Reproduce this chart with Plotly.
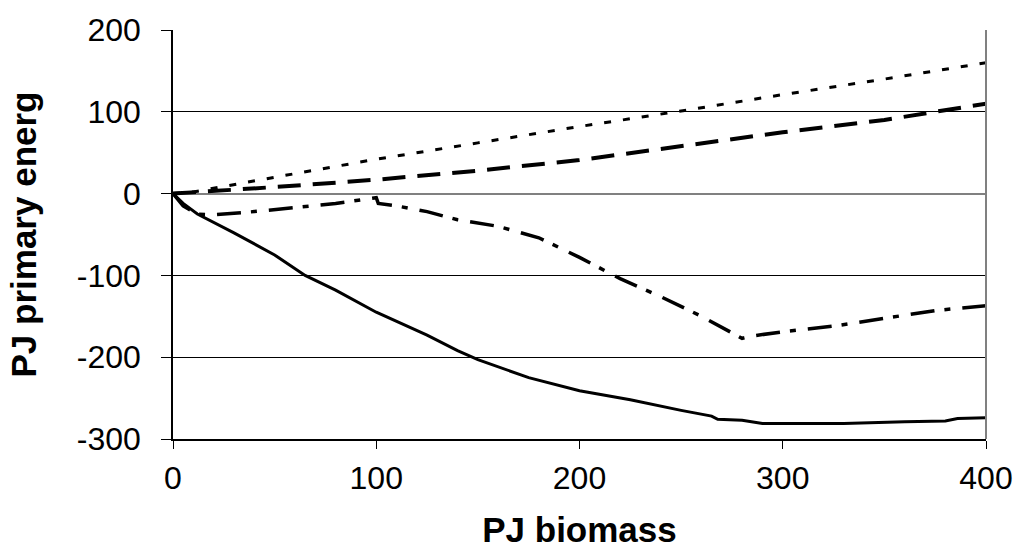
import plotly.graph_objects as go

# PJ biomass (x) vs. PJ primary energy (y) for four chains
x_dotted = [0, 10, 50, 100, 150, 200, 250, 300, 350, 400]
y_dotted = [0, 2, 20, 42, 62, 82, 101, 121, 140, 160]

x_dash = [0, 20, 50, 100, 150, 200, 250, 300, 350, 375, 400]
y_dash = [0, 3, 8, 17, 28, 41, 58, 75, 90, 100, 110]

x_dashdot = [0, 5, 12, 20, 40, 60, 80, 100, 101, 110, 125, 140, 160, 180,
             200, 220, 240, 260, 280, 285, 300, 325, 350, 375, 400]
y_dashdot = [0, -15, -25, -26, -22, -17, -12, -5, -12, -15, -22, -32, -40, -54,
             -78, -104, -126, -150, -177, -174, -169, -162, -153, -143, -137]

x_solid = [0, 5, 12, 20, 30, 50, 65, 80, 100, 125, 140, 150, 175, 200, 225,
           250, 265, 268, 280, 290, 330, 360, 380, 386, 400]
y_solid = [0, -12, -25, -35, -48, -75, -100, -118, -145, -173, -192, -203, -225,
           -241, -252, -265, -272, -276, -277, -281, -281, -279, -278, -275, -274]

x_ticks = [0, 100, 200, 300, 400]
x_labels = ["0", "100", "200", "300", "400"]
y_ticks = [-300, -200, -100, 0, 100, 200]
y_labels = ["-300", "-200", "-100", "0", "100", "200"]

fig = go.Figure()
fig.add_trace(go.Scatter(x=x_dotted, y=y_dotted, mode="lines",
                         line=dict(color="black", width=3, dash="7px,12px")))
fig.add_trace(go.Scatter(x=x_dash, y=y_dash, mode="lines",
                         line=dict(color="black", width=4, dash="23px,12px")))
fig.add_trace(go.Scatter(x=x_dashdot, y=y_dashdot, mode="lines",
                         line=dict(color="black", width=3.5, dash="24px,10px,6px,12px")))
fig.add_trace(go.Scatter(x=x_solid, y=y_solid, mode="lines",
                         line=dict(color="black", width=3)))

# grey right-hand border of the plot area
fig.add_shape(type="line", xref="paper", yref="paper", x0=1, x1=1, y0=0, y1=1,
              line=dict(color="#808080", width=2))

font_family = "Liberation Sans, Arial, sans-serif"
fig.update_layout(
    width=1025, height=555,
    margin=dict(l=173, r=36, t=27, b=116),
    paper_bgcolor="white", plot_bgcolor="white",
    showlegend=False,
    font=dict(family=font_family, color="black", size=32),
    xaxis=dict(
        range=[0, 400], tickvals=x_ticks, ticktext=x_labels,
        ticks="outside", ticklen=8,
        tickcolor="black", showline=True, linecolor="black", linewidth=1.5,
        showgrid=False, zeroline=False, ticklabelstandoff=2,
        title=dict(text="<b>PJ biomass</b>", font=dict(size=35), standoff=22),
    ),
    yaxis=dict(
        range=[-300, 200], tickvals=y_ticks, ticktext=y_labels,
        ticks="outside", ticklen=10,
        tickcolor="black", showline=True, linecolor="black", linewidth=1.5,
        showgrid=True, gridcolor="black", gridwidth=1,
        zeroline=True, zerolinecolor="#808080", zerolinewidth=2,
        ticklabelstandoff=14,
        title=dict(text="<b>PJ primary energ</b>", font=dict(size=35), standoff=30),
    ),
)

fig.write_html("out.html")
